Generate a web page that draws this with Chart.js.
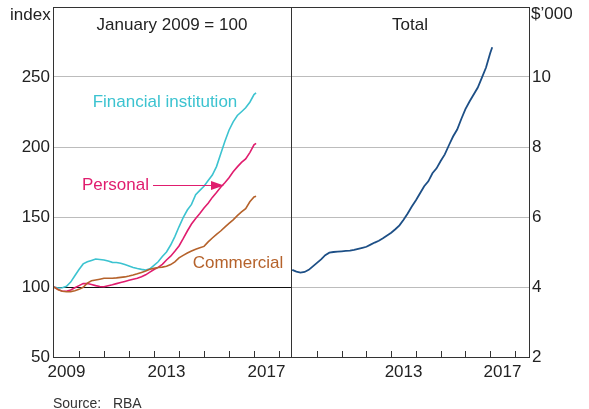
<!DOCTYPE html>
<html>
<head>
<meta charset="utf-8">
<script src="https://cdn.jsdelivr.net/npm/chart.js@4.4.1/dist/chart.umd.min.js"></script>
<style>
  html, body { margin: 0; padding: 0; background: #fff; }
  #wrap { position: relative; width: 589px; height: 409px; overflow: hidden; font-family: "Liberation Sans", Arial, sans-serif; }
  canvas { position: absolute; top: 0; }
  #left { left: 0; }
  #right { left: 282px; }
  #source { position: absolute; left: 53px; top: 396px; font-size: 14px; line-height: 14px; color: #333; }
</style>
</head>
<body>
<div id="wrap">
  <canvas id="left" width="300" height="409"></canvas>
  <canvas id="right" width="307" height="409"></canvas>
  <div id="source">Source:&nbsp;&nbsp; RBA</div>
</div>
<script>
// every second month from Jan 2009, plus Feb 2017
const months = [];
for (let y = 2009; y <= 2016; y++) {
  for (let m = 1; m <= 11; m += 2) months.push(y + '-' + String(m).padStart(2, '0'));
}
months.push('2017-01', '2017-02');

// index, January 2009 = 100
const financial = [100, 99.3, 99.5, 100.5, 103.5, 108, 112.5, 116.5, 118, 119, 120, 119.7, 119.3, 118.5, 117.6, 117.5, 117, 116, 115, 114, 113.2, 112.6, 112.1, 113, 115.5, 118, 121.8, 125, 130, 136, 143, 149.5, 155, 159, 166, 169, 172, 176, 180, 186, 195, 204, 212, 218, 222.5, 225.2, 228, 232, 237.5, 238.6];
const personal = [100, 98.3, 97, 97, 97.9, 99.5, 101, 102.4, 102.5, 101.8, 101, 100.4, 100.2, 100.9, 101.6, 102.4, 103.2, 104, 104.8, 105.5, 106.2, 107.3, 108.7, 110.6, 112.5, 114, 116.2, 119.3, 122, 125.5, 129.3, 134.5, 140, 145, 149, 152.5, 156.5, 159.8, 164, 167.5, 171.3, 174.5, 178, 182.3, 185.8, 189, 191.5, 196, 201.5, 202.6];
const commercial = [100, 98, 97, 96.6, 96.7, 97.3, 98.3, 99.8, 102.8, 104.4, 105, 105.6, 106.2, 106.3, 106.2, 106.5, 106.9, 107.2, 107.8, 108.5, 109.4, 110.4, 111.4, 112.7, 113.3, 113.9, 114.2, 114.8, 116, 118, 120.8, 122.6, 124.3, 125.7, 127, 128, 129, 132.2, 135, 137.6, 140, 142.8, 145.4, 148, 151, 153.6, 156, 160.9, 164.3, 164.8];
// $'000
const total = [4.49, 4.44, 4.41, 4.43, 4.49, 4.59, 4.69, 4.79, 4.91, 4.98, 5.0, 5.01, 5.02, 5.03, 5.04, 5.06, 5.09, 5.12, 5.15, 5.21, 5.27, 5.32, 5.39, 5.47, 5.55, 5.65, 5.76, 5.92, 6.1, 6.3, 6.48, 6.68, 6.88, 7.02, 7.25, 7.39, 7.6, 7.79, 8.05, 8.3, 8.5, 8.8, 9.08, 9.3, 9.5, 9.7, 9.98, 10.27, 10.68, 10.85];

const leftYearLabels = [2009, 2013, 2017];
const rightYearLabels = [2013, 2017];
const yearTicks = [2010, 2011, 2012, 2013, 2014, 2015, 2016, 2017, 2018];

const FONT = '"Liberation Sans", Arial, sans-serif';
const TEXT = '#222';
const GRID = '#bcbcbc';
const FRAME = '#333';
const C_FIN = '#3cc3d0';
const C_PER = '#e01d6e';
const C_COM = '#b5622b';
const C_TOT = '#1d4f86';

const years = months.map(m => {
  const [y, mo] = m.split('-').map(Number);
  return y + (mo - 1) / 12;
});
const pts = vals => vals.map((v, i) => ({ x: years[i], y: v }));

function line(data, color) {
  return { data: pts(data), borderColor: color, borderWidth: 1.6, pointRadius: 0, tension: 0, fill: false };
}

// no extra room for half labels, the plot box is fixed
function noPad(s) {
  s.paddingTop = 0; s.paddingBottom = 0; s.paddingLeft = 0; s.paddingRight = 0;
}

function xScale(labels, min, max) {
  return {
    type: 'linear', min: min, max: max,
    afterBuildTicks: s => { s.ticks = labels.map(v => ({ value: v + 0.5 })); },
    afterFit: s => { s.height = 52; noPad(s); },
    ticks: { autoSkip: false, maxRotation: 0, padding: 5, color: TEXT, font: { family: FONT, size: 17 },
      callback: v => String(Math.floor(v)) },
    grid: { display: false, drawTicks: false },
    border: { display: false }
  };
}

// frame, inward year ticks and text
function panelPlugin(draw) {
  return {
    id: 'panel',
    afterDraw(chart) {
      const ctx = chart.ctx, a = chart.chartArea, xs = chart.scales.x;
      ctx.save();
      ctx.strokeStyle = FRAME;
      ctx.lineWidth = 1;
      yearTicks.forEach(yr => {
        const px = Math.round(xs.getPixelForValue(yr)) + 0.5;
        ctx.beginPath();
        ctx.moveTo(px, a.bottom);
        ctx.lineTo(px, a.bottom - 6);
        ctx.stroke();
      });
      ctx.strokeRect(Math.round(a.left) + 0.5, Math.round(a.top) + 0.5, Math.round(a.right - a.left), Math.round(a.bottom - a.top));
      ctx.textBaseline = 'middle';
      draw(chart, ctx, a);
      ctx.restore();
    }
  };
}

function text(ctx, str, x, y, color, align) {
  ctx.fillStyle = color;
  ctx.textAlign = align || 'center';
  ctx.font = '17px ' + FONT;
  ctx.fillText(str, x, y);
}

new Chart(document.getElementById('left'), {
  type: 'line',
  data: { datasets: [line(commercial, C_COM), line(personal, C_PER), line(financial, C_FIN)] },
  options: {
    responsive: false, animation: false, events: [],
    layout: { padding: { left: 0, right: 9, top: 7, bottom: 0 } },
    plugins: { legend: { display: false }, tooltip: { enabled: false } },
    scales: {
      x: xScale(leftYearLabels, 2008.96, 2018.48),
      y: {
        min: 50, max: 300,
        afterFit: s => { s.width = 53; noPad(s); },
        ticks: { stepSize: 50, padding: 3, color: TEXT, font: { family: FONT, size: 17 },
          callback: v => v === 300 ? '' : v },
        grid: { drawTicks: false, lineWidth: 1, color: c => c.tick && c.tick.value === 100 ? '#111' : GRID },
        border: { display: false }
      }
    }
  },
  plugins: [panelPlugin((chart, ctx, a) => {
    const xs = chart.scales.x, ys = chart.scales.y;
    text(ctx, 'index', 10, 15, TEXT, 'left');
    text(ctx, 'January 2009 = 100', (a.left + a.right) / 2, 25, TEXT);
    text(ctx, 'Financial institution', xs.getPixelForValue(2013.44), ys.getPixelForValue(232), C_FIN);
    text(ctx, 'Personal', xs.getPixelForValue(2012.8), ys.getPixelForValue(172.9), C_PER, 'right');
    text(ctx, 'Commercial', xs.getPixelForValue(2016.36), ys.getPixelForValue(117), C_COM);
    // arrow to the personal line
    const ay = Math.round(ys.getPixelForValue(172.9)) + 0.5;
    const x1 = xs.getPixelForValue(2012.96), x2 = xs.getPixelForValue(2015.8);
    ctx.strokeStyle = C_PER;
    ctx.lineWidth = 1;
    ctx.beginPath();
    ctx.moveTo(x1, ay);
    ctx.lineTo(x2 - 10, ay);
    ctx.stroke();
    ctx.fillStyle = C_PER;
    ctx.beginPath();
    ctx.moveTo(x2, ay);
    ctx.lineTo(x2 - 13, ay - 4.5);
    ctx.lineTo(x2 - 13, ay + 4.5);
    ctx.closePath();
    ctx.fill();
  })]
});

new Chart(document.getElementById('right'), {
  type: 'line',
  data: { datasets: [Object.assign(line(total, C_TOT), { borderWidth: 1.8 })] },
  options: {
    responsive: false, animation: false, events: [],
    layout: { padding: { left: 9, right: 0, top: 7, bottom: 0 } },
    plugins: { legend: { display: false }, tooltip: { enabled: false } },
    scales: {
      x: xScale(rightYearLabels, 2008.95, 2018.57),
      y: {
        position: 'right',
        min: 2, max: 12,
        afterFit: s => { s.width = 60; noPad(s); },
        ticks: { stepSize: 2, padding: 3, color: TEXT, font: { family: FONT, size: 17 },
          callback: v => v === 12 ? '' : v },
        grid: { drawTicks: false, lineWidth: 1, color: GRID },
        border: { display: false }
      }
    }
  },
  plugins: [panelPlugin((chart, ctx, a) => {
    text(ctx, '$\u2019000', a.right + 2, 14, TEXT, 'left');
    text(ctx, 'Total', (a.left + a.right) / 2, 25, TEXT);
  })]
});
</script>
</body>
</html>
